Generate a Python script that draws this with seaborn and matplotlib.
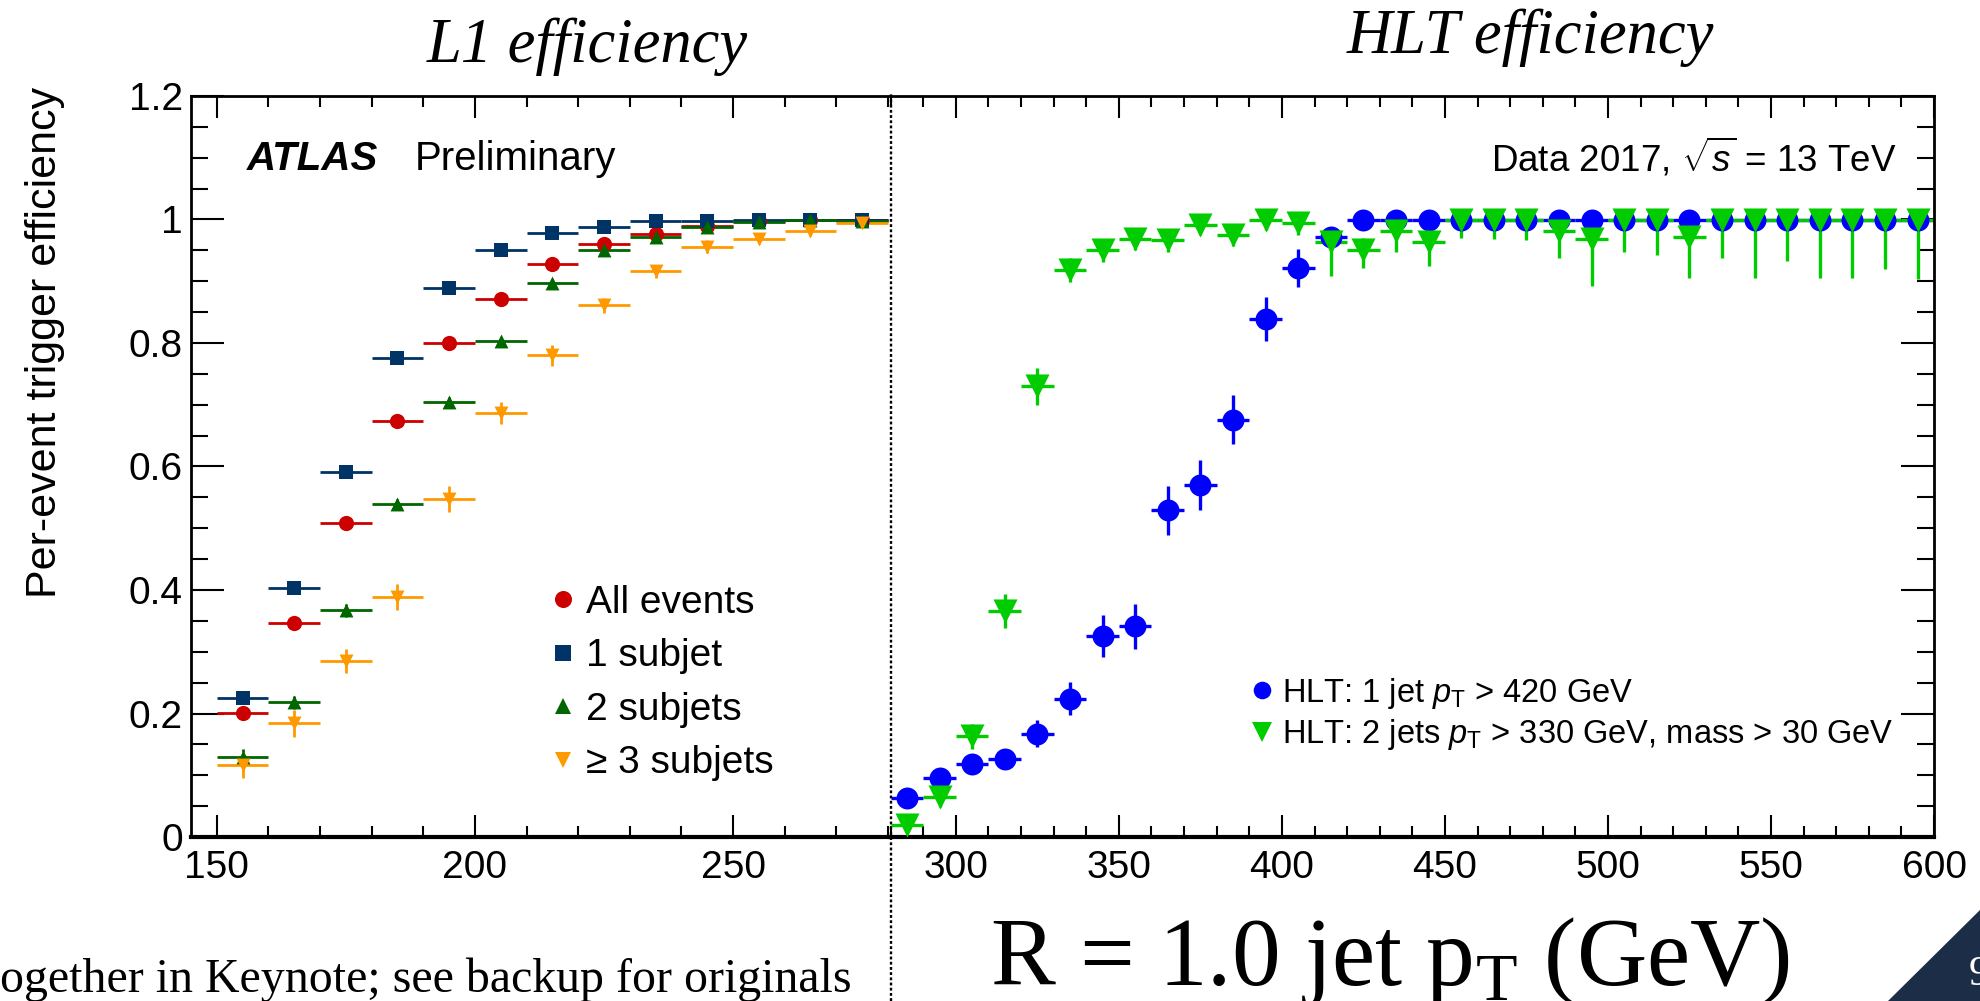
import numpy as np
import pandas as pd
import matplotlib
matplotlib.use("Agg")
import matplotlib.pyplot as plt
import seaborn as sns
from matplotlib.lines import Line2D
from matplotlib.patches import Polygon
from matplotlib.ticker import MultipleLocator, FuncFormatter

# ---------------- data ----------------
l1_pt = [155, 165, 175, 185, 195, 205, 215, 225, 235, 245, 255, 265, 275]
l1_all = [0.201, 0.346, 0.508, 0.674, 0.800, 0.872, 0.928, 0.960, 0.977, 0.989, 0.997, 0.999, 1.000]
l1_1subjet = [0.225, 0.403, 0.591, 0.775, 0.889, 0.950, 0.978, 0.988, 0.997, 0.998, 1.000, 1.000, 1.000]
l1_2subjets = [0.130, 0.218, 0.367, 0.539, 0.705, 0.803, 0.897, 0.950, 0.971, 0.988, 0.996, 0.999, 0.998]
l1_3subjets = [0.117, 0.184, 0.285, 0.388, 0.547, 0.687, 0.780, 0.861, 0.916, 0.956, 0.968, 0.981, 0.995]
l1_all_err = [0.006, 0.006, 0.006, 0.005, 0.005, 0.004, 0.004, 0.003, 0.003, 0.002, 0.002, 0.001, 0.001]
l1_1subjet_err = [0.006, 0.006, 0.006, 0.005, 0.004, 0.004, 0.003, 0.003, 0.002, 0.002, 0.001, 0.001, 0.001]
l1_2subjets_err = [0.012, 0.010, 0.010, 0.009, 0.008, 0.007, 0.006, 0.005, 0.004, 0.003, 0.003, 0.002, 0.002]
l1_3subjets_err = [0.021, 0.022, 0.020, 0.021, 0.021, 0.018, 0.017, 0.012, 0.011, 0.011, 0.008, 0.008, 0.006]
l1_labels = ["All events", "1 subjet", "2 subjets", "\u2265 3 subjets"]

hlt_pt = [285, 295, 305, 315, 325, 335, 345, 355, 365, 375, 385, 395, 405, 415, 425, 435,
          445, 455, 465, 475, 485, 495, 505, 515, 525, 535, 545, 555, 565, 575, 585, 595]
hlt_1jet = [0.063, 0.095, 0.118, 0.126, 0.167, 0.224, 0.325, 0.341, 0.529, 0.570, 0.676, 0.839,
            0.922, 0.971, 1.0, 1.0, 1.0, 1.0, 1.0, 1.0, 1.0, 1.0, 1.0, 1.0, 1.0, 1.0, 1.0, 1.0,
            1.0, 1.0, 1.0, 1.0]
hlt_1jet_err_lo = [0.008, 0.010, 0.012, 0.016, 0.022, 0.027, 0.034, 0.037, 0.040, 0.041, 0.039, 0.036,
                   0.031, 0.015, 0.010, 0.008, 0.006, 0.005, 0.005, 0.004, 0.004, 0.004, 0.004, 0.004,
                   0.004, 0.004, 0.004, 0.004, 0.004, 0.004, 0.004, 0.004]
hlt_1jet_err_hi = [0.008, 0.010, 0.012, 0.016, 0.022, 0.027, 0.034, 0.037, 0.040, 0.041, 0.039, 0.036,
                   0.031, 0.015, 0.0, 0.0, 0.0, 0.0, 0.0, 0.0, 0.0, 0.0, 0.0, 0.0,
                   0.0, 0.0, 0.0, 0.0, 0.0, 0.0, 0.0, 0.0]
hlt_2jets = [0.020, 0.064, 0.163, 0.366, 0.730, 0.918, 0.950, 0.968, 0.966, 0.991, 0.975, 1.0,
             0.994, 0.964, 0.950, 0.982, 0.963, 1.0, 1.0, 1.0, 0.982, 0.968, 1.0, 1.0, 0.972, 1.0,
             1.0, 1.0, 1.0, 1.0, 1.0, 1.0]
hlt_2jets_err_lo = [0.010, 0.015, 0.020, 0.027, 0.030, 0.020, 0.019, 0.018, 0.019, 0.016, 0.018, 0.017,
                    0.019, 0.055, 0.028, 0.035, 0.038, 0.030, 0.032, 0.034, 0.045, 0.075, 0.052, 0.058,
                    0.066, 0.063, 0.094, 0.067, 0.094, 0.094, 0.080, 0.097]
hlt_2jets_err_hi = [0.010, 0.015, 0.020, 0.027, 0.030, 0.020, 0.019, 0.018, 0.019, 0.009, 0.018, 0.0,
                    0.006, 0.017, 0.020, 0.018, 0.025, 0.0, 0.0, 0.0, 0.015, 0.027, 0.0, 0.0,
                    0.026, 0.0, 0.0, 0.0, 0.0, 0.0, 0.0, 0.0]
hlt_labels = [r"HLT: 1 jet $p_{\mathrm{T}}$ > 420 GeV",
              r"HLT: 2 jets $p_{\mathrm{T}}$ > 330 GeV, mass > 30 GeV"]
bin_half_width = 5

# ---------------- style ----------------
sns.set_theme(style="ticks")
plt.rcParams['font.family'] = ['Liberation Sans', 'DejaVu Sans']
plt.rcParams['mathtext.fontset'] = 'custom'
plt.rcParams['mathtext.rm'] = 'Liberation Sans'
plt.rcParams['mathtext.it'] = 'Liberation Sans:italic'
plt.rcParams['mathtext.sf'] = 'Liberation Serif'
for key in ['text.color', 'axes.labelcolor', 'xtick.color', 'ytick.color', 'axes.edgecolor']:
    plt.rcParams[key] = 'black'

W, H = 1980, 1001
fig = plt.figure(figsize=(W / 100, H / 100), dpi=100, facecolor='white')

def fx(px):
    return px / W

def fy(py):
    return 1 - py / H

Y0, Y1 = 837, 96
ax1 = fig.add_axes([fx(191), fy(Y0), fx(890) - fx(191), fy(Y1) - fy(Y0)])
ax2 = fig.add_axes([fx(890), fy(Y0), fx(1934) - fx(890), fy(Y1) - fy(Y0)])

# ---------------- left panel (L1) ----------------
l1_colors = ['#cc0000', '#003366', '#006600', '#ff9900']
l1_markers = ['o', 's', '^', 'v']
l1_sizes = [120, 105, 100, 100]
l1_series = [l1_all, l1_1subjet, l1_2subjets, l1_3subjets]
l1_errs = [l1_all_err, l1_1subjet_err, l1_2subjets_err, l1_3subjets_err]

for lab, vals, errs, col, mk, sz in zip(l1_labels, l1_series, l1_errs, l1_colors, l1_markers, l1_sizes):
    df = pd.DataFrame({'pt': l1_pt, 'eff': vals})
    ax1.errorbar(df['pt'], df['eff'], xerr=bin_half_width, yerr=errs, fmt='none',
                 ecolor=col, elinewidth=2.0, capsize=0, zorder=2)
    sns.scatterplot(data=df, x='pt', y='eff', marker=mk, s=sz, color=col, linewidth=0,
                    legend=False, ax=ax1, zorder=3)

ax1.set_xlim(145, 280.4)
ax1.set_ylim(0, 1.2)

# ---------------- right panel (HLT) ----------------
hlt_colors = ['#0000ff', '#00cc00']
hlt_markers = ['o', 'v']
hlt_sizes = [250, 300]
hlt_series = [hlt_1jet, hlt_2jets]
hlt_errs = [(hlt_1jet_err_lo, hlt_1jet_err_hi), (hlt_2jets_err_lo, hlt_2jets_err_hi)]

for lab, vals, (elo, ehi), col, mk, sz in zip(hlt_labels, hlt_series, hlt_errs, hlt_colors, hlt_markers, hlt_sizes):
    df = pd.DataFrame({'pt': hlt_pt, 'eff': vals})
    ax2.errorbar(df['pt'], df['eff'], xerr=bin_half_width, yerr=[elo, ehi], fmt='none',
                 ecolor=col, elinewidth=2.4, capsize=0, zorder=2)
    sns.scatterplot(data=df, x='pt', y='eff', marker=mk, s=sz, color=col, linewidth=0,
                    legend=False, ax=ax2, zorder=3)

ax2.set_xlim(279.8, 600)
ax2.set_ylim(0, 1.2)

# ---------------- axes styling ----------------
fmt = FuncFormatter(lambda v, p: f"{v:g}")
for ax in (ax1, ax2):
    ax.xaxis.set_major_locator(MultipleLocator(50))
    ax.xaxis.set_minor_locator(MultipleLocator(10))
    ax.yaxis.set_major_locator(MultipleLocator(0.2))
    ax.yaxis.set_minor_locator(MultipleLocator(0.05))
    ax.xaxis.set_major_formatter(fmt)
    ax.yaxis.set_major_formatter(fmt)
    ax.tick_params(axis='x', which='major', direction='in', length=16, width=1.5,
                   top=True, bottom=True, labelsize=28, pad=9, colors='black')
    ax.tick_params(axis='x', which='minor', direction='in', length=8, width=1.5,
                   top=True, bottom=True, colors='black')
    ax.spines['bottom'].set_linewidth(3.0)
    ax.spines['top'].set_linewidth(2.0)
    for sp in ax.spines.values():
        sp.set_color('black')
    ax.set_xlabel("")
    ax.set_ylabel("")
    ax.set_facecolor('white')

ax1.spines['right'].set_visible(False)
ax1.spines['left'].set_linewidth(2.0)
ax1.tick_params(axis='y', which='major', direction='in', length=24, width=1.5,
                left=True, right=False, labelsize=28, pad=6, colors='black')
ax1.tick_params(axis='y', which='minor', direction='in', length=12, width=1.5,
                left=True, right=False, colors='black')

ax2.spines['left'].set_visible(False)
ax2.spines['right'].set_linewidth(2.0)
ax2.tick_params(axis='y', which='major', direction='in', length=24, width=1.5,
                left=False, right=True, labelleft=False, labelright=False, colors='black')
ax2.tick_params(axis='y', which='minor', direction='in', length=12, width=1.5,
                left=False, right=True, colors='black')

# axis titles
ax1.set_ylabel("Per-event trigger efficiency", fontsize=31, va='center', color='black')
ax1.yaxis.set_label_coords((45 - 191) / 699, (Y0 - 342) / (Y0 - Y1))
ax2.set_xlabel(r"R = 1.0 jet p$_{\mathsf{T}}$ (GeV)", fontsize=70, va='center',
               family='Liberation Serif', color='black')
ax2.xaxis.set_label_coords((1390 - 890) / 1044, (Y0 - 962) / (Y0 - Y1))

# dotted separator
ax2.axvline(280, ymin=(Y0 - 1001) / (Y0 - Y1), ymax=(Y0 - 94) / (Y0 - Y1), clip_on=False,
            color='black', lw=1.7, ls=(0, (1.2, 1.0)), zorder=5)

# ---------------- legends ----------------
l1_handles = [Line2D([], [], ls='none', marker=m, color=c, markersize=np.sqrt(s) * 1.12, markeredgewidth=0)
              for m, c, s in zip(l1_markers, l1_colors, l1_sizes)]
leg1 = ax1.legend(l1_handles, l1_labels, loc='center left', frameon=False, fontsize=28,
                  bbox_to_anchor=(fx(547), fy(683)), bbox_transform=fig.transFigure,
                  borderpad=0, borderaxespad=0, handlelength=0.8, handletextpad=0.2,
                  labelspacing=0.45)

hlt_handles = [Line2D([], [], ls='none', marker=m, color=c, markersize=np.sqrt(s) * 0.8, markeredgewidth=0)
               for m, c, s in zip(hlt_markers, hlt_colors, hlt_sizes)]
leg2 = ax2.legend(hlt_handles, hlt_labels, loc='center left', frameon=False, fontsize=23.5,
                  bbox_to_anchor=(fx(1252), fy(714)), bbox_transform=fig.transFigure,
                  borderpad=0, borderaxespad=0, handlelength=0.6, handletextpad=0.33,
                  labelspacing=0.2)

# ---------------- annotations ----------------
fig.text(fx(247), fy(170), "ATLAS", fontsize=29, fontweight='bold', fontstyle='italic',
         ha='left', va='baseline')
fig.text(fx(415), fy(170), "Preliminary", fontsize=29, ha='left', va='baseline')
fig.text(fx(1897), fy(172), r"Data 2017, $\sqrt{s}$ = 13 TeV", fontsize=26.5,
         ha='right', va='baseline')

fig.text(fx(587), fy(62), "L1 efficiency", fontsize=45, family='Liberation Serif',
         fontstyle='italic', ha='center', va='baseline')
fig.text(fx(1530), fy(53), "HLT efficiency", fontsize=45, family='Liberation Serif',
         fontstyle='italic', ha='center', va='baseline')

fig.text(fx(0), fy(992), "ogether in Keynote; see backup for originals", fontsize=34.5,
         family='Liberation Serif', ha='left', va='baseline')

# slide corner decoration with page number
corner = Polygon([(fx(1888), 0), (1, 0), (1, fy(910))], closed=True,
                 transform=fig.transFigure, facecolor='#1c2d48', edgecolor='none')
fig.patches.append(corner)
fig.text(fx(1969), fy(975), "9", fontsize=30, family='Liberation Serif', color='white',
         ha='left', va='center')

fig.savefig("out.png", dpi=100, facecolor='white')
